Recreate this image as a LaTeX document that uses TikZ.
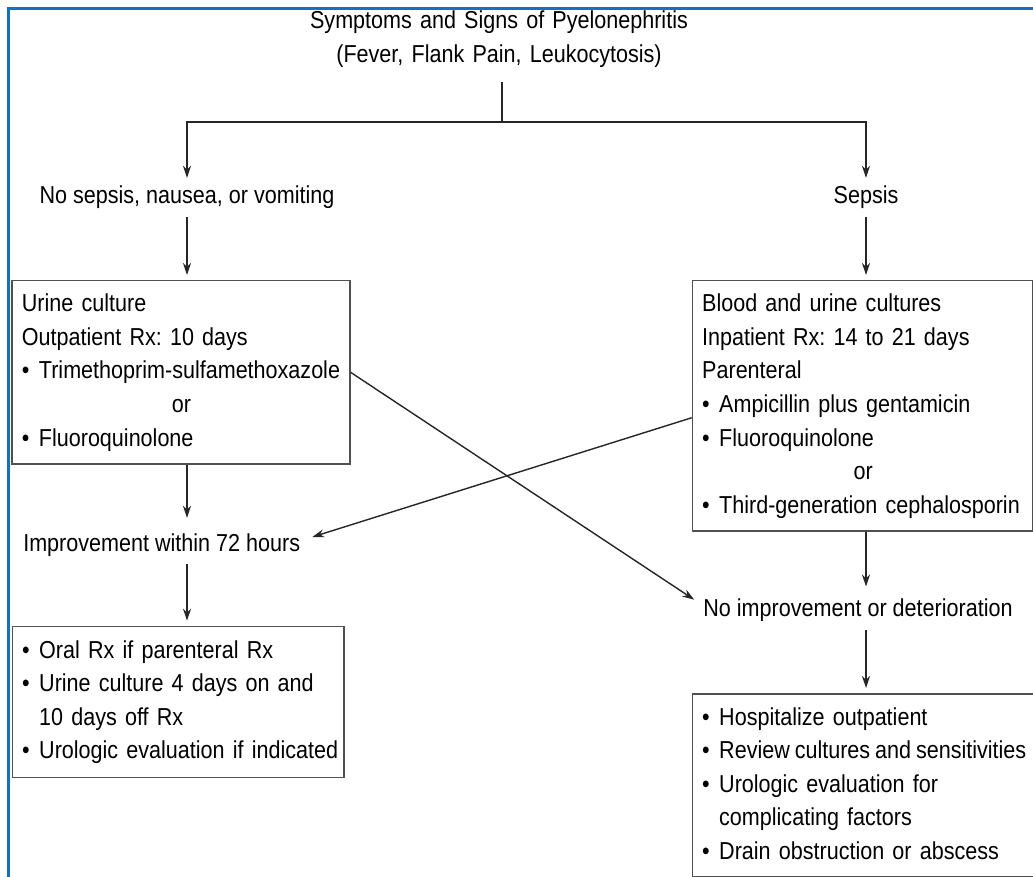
\documentclass[tikz,border=0pt]{standalone}
\usepackage{fontspec}
\setmainfont[FakeStretch=0.88]{Liberation Sans}
\usetikzlibrary{arrows.meta,calc}
\definecolor{frameblue}{RGB}{16,114,196}
\definecolor{boxgray}{RGB}{80,80,80}
\newcommand{\bul}{\makebox[17pt][l]{\textbullet}}
\newcommand{\hang}{\hspace*{17pt}}

\begin{document}
\begin{tikzpicture}[x=1pt,y=-1pt,
    every node/.style={font=\fontsize{24.5}{33.6}\selectfont\frenchspacing, text=black},
    box/.style={draw=boxgray, line width=1.5pt, anchor=north west, inner sep=0pt},
    txt/.style={anchor=base west, inner sep=0pt, align=left, text width=420pt},
    lbl/.style={anchor=base, text height=18pt, text depth=5pt, inner xsep=4pt, inner ysep=8pt},
    line/.style={line width=1.4pt, draw=black!85},
    arr/.style={line, -{Stealth[length=12pt,width=8pt]}},
    arrbox/.style={arr, shorten >=5pt}]
  \useasboundingbox (0,0) rectangle (1033,877);
  \fill[white] (0,0) rectangle (1033,877);
  % frame
  \draw[frameblue, line width=3pt] (8.5,877) -- (8.5,8.5) -- (1033,8.5);

  % title and the two branches
  \node[anchor=base, text width=480pt, align=center, inner sep=0pt] (title) at (499,29)
    {Symptoms and Signs of Pyelonephritis\\(Fever, Flank Pain, Leukocytosis)};
  \node[lbl] (nosep) at (187,204) {No sepsis, nausea, or vomiting};
  \node[lbl] (sepsis) at (866,204) {Sepsis};

  % boxes
  \node[box, minimum width=338pt, minimum height=183pt] (outbox) at (11,280) {};
  \node[box, minimum width=340pt, minimum height=250pt] (inbox) at (691.7,280) {};
  \node[box, minimum width=331.3pt, minimum height=151pt] (offbox) at (11.7,625.7) {};
  \node[box, minimum width=345pt, minimum height=182.7pt] (hospbox) at (691.7,693) {};

  \node[txt] (outtxt) at (21.7,311.7)
    {Urine culture\\Outpatient Rx: 10 days\\\bul Trimethoprim-sulfamethoxazole\\
     \hspace*{150pt}or\\\bul Fluoroquinolone};
  \node[txt] (intxt) at (702,311.7)
    {Blood and urine cultures\\Inpatient Rx: 14 to 21 days\\Parenteral\\
     \bul Ampicillin plus gentamicin\\\bul Fluoroquinolone\\
     \hspace*{151.5pt}or\\\bul Third-generation cephalosporin};
  \node[txt] (offtxt) at (22,658)
    {\bul Oral Rx if parenteral Rx\\\bul Urine culture 4 days on and\\
     \hang 10 days off Rx\\\bul Urologic evaluation if indicated};
  \node[txt] (hosptxt) at (702,725)
    {\bul Hospitalize outpatient\\\bul {\spaceskip=0.2em Review cultures and sensitivities}\\
     \bul Urologic evaluation for\\\hang complicating factors\\
     \bul Drain obstruction or abscess};

  % outcomes
  \node[lbl, text height=25pt] (improve) at (161.7,551) {Improvement within 72 hours};
  \node[lbl, text height=22pt] (noimp) at (858,616.7) {No improvement or deterioration};

  % connectors
  \coordinate (ttop) at (502,82);
  \coordinate (split) at (502,122);
  \draw[line] (ttop) -- (split);
  \draw[arr] (split) -| (nosep.north);
  \draw[arr] (split) -| (sepsis.north);
  \draw[arrbox] (nosep.south) -- (nosep.south |- outbox.north);
  \draw[arrbox] (sepsis.south) -- (sepsis.south |- inbox.north);
  \draw[arr] (nosep.south |- outbox.south) -- (nosep.south |- improve.north);
  \draw[arr] (sepsis.south |- inbox.south) -- (sepsis.south |- noimp.north);
  \draw[arrbox] (nosep.south |- improve.south) -- (nosep.south |- offbox.north);
  \draw[arrbox] (sepsis.south |- noimp.south) -- (sepsis.south |- hospbox.north);
  \draw[arr] (outbox.east) -- ($(noimp.base west)+(-5,-17)$);
  \draw[arr] ($(inbox.west)+(0,12)$) -- ($(improve.base east)+(8,-14)$);
\end{tikzpicture}
\end{document}
